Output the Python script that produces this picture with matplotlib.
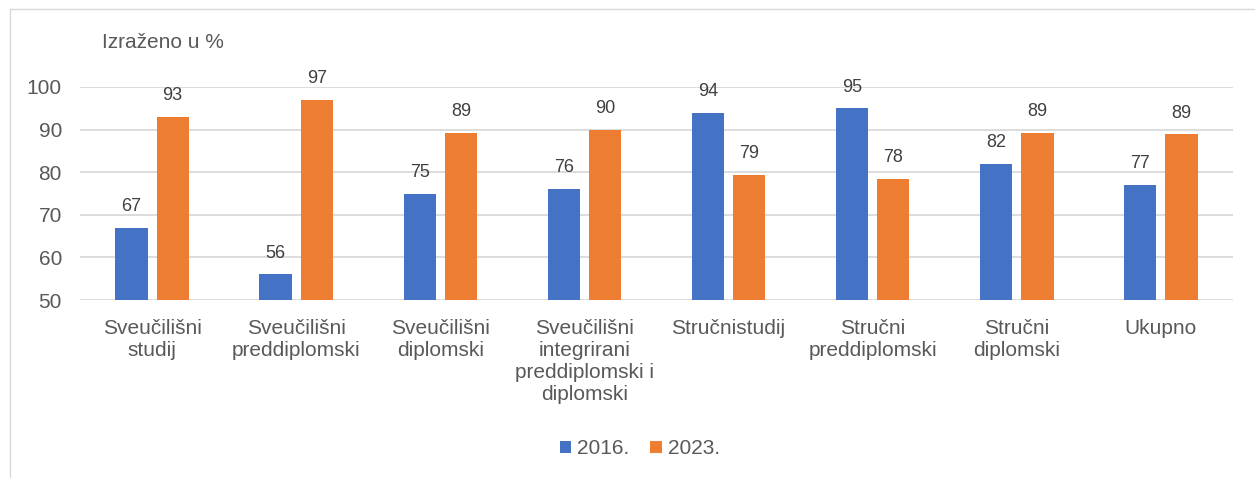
import matplotlib.pyplot as plt
import numpy as np

plt.rcParams['font.family'] = ['Liberation Sans', 'DejaVu Sans']

categories = ['Sveučilišni\nstudij', 'Sveučilišni\npreddiplomski', 'Sveučilišni\ndiplomski',
              'Sveučilišni\nintegrirani\npreddiplomski i\ndiplomski', 'Stručnistudij',
              'Stručni\npreddiplomski', 'Stručni\ndiplomski', 'Ukupno']
values_2016 = [67, 56, 75, 76, 94, 95, 82, 77]
values_2023 = [93, 96.9, 89.2, 89.9, 79.4, 78.4, 89.3, 88.9]
series_labels = ['2016.', '2023.']
yticks = [50, 60, 70, 80, 90, 100]

blue = '#4472C4'
orange = '#ED7D31'
text_col = '#595959'
grid_col = '#d9d9d9'

fig = plt.figure(figsize=(12.55, 4.78), dpi=100)

# chart border (left and top edges visible)
fig.add_artist(plt.Line2D([10 / 1255, 10 / 1255], [0, 1 - 9 / 478],
                          transform=fig.transFigure, color=grid_col, lw=1))
fig.add_artist(plt.Line2D([10 / 1255, 1], [1 - 9 / 478, 1 - 9 / 478],
                          transform=fig.transFigure, color=grid_col, lw=1))

ax = fig.add_axes([80 / 1255, 1 - 300 / 478, 1153 / 1255, 213 / 478])

x = np.arange(len(categories))
w = 0.224
off = 0.143
b1 = ax.bar(x - off, np.array(values_2016) - 50, w, bottom=50, color=blue, label=series_labels[0], zorder=3)
b2 = ax.bar(x + off, np.array(values_2023) - 50, w, bottom=50, color=orange, label=series_labels[1], zorder=3)

for bars, vals in ((b1, values_2016), (b2, values_2023)):
    for rect, v in zip(bars, vals):
        ax.text(rect.get_x() + rect.get_width() / 2, v + 3.0, f'{v:.0f}',
                ha='center', va='bottom', fontsize=13, color='#404040')

ax.set_xlim(-0.5, len(categories) - 0.5)
ax.set_ylim(50, 100)
ax.set_yticks(yticks)
ax.yaxis.grid(True, color=grid_col, lw=1.3, zorder=0)
for s in ax.spines.values():
    s.set_visible(False)
ax.tick_params(axis='both', length=0, labelsize=15, colors=text_col)
ax.tick_params(axis='y', pad=13)
ax.set_xticks(x)
ax.set_xticklabels(categories, linespacing=1.2)
ax.tick_params(axis='x', pad=14)

fig.text(102 / 1255, 1 - 42 / 478, 'Izraženo u %', fontsize=15, color=text_col, va='center')

leg = fig.legend(handles=[b1, b2], labels=series_labels, loc='center',
                 bbox_to_anchor=(640 / 1255, 1 - 449 / 478), ncol=2, frameon=False,
                 fontsize=15, handlelength=0.55, handleheight=0.55, handletextpad=0.3,
                 columnspacing=1.0, labelcolor=text_col)

fig.savefig('out.png', dpi=100)
